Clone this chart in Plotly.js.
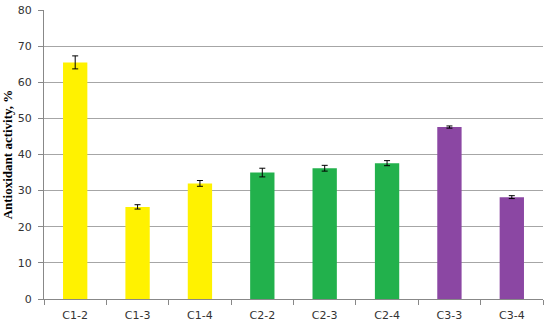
<!DOCTYPE html>
<html>
<head>
<meta charset="utf-8">
<script src="https://cdn.plot.ly/plotly-3.0.1.min.js"></script>
<style>html,body{margin:0;padding:0;background:#fff;}#chart{width:550px;height:329px;}</style>
</head>
<body>
<div id="chart"></div>
<script>
const categories = ["C1-2", "C1-3", "C1-4", "C2-2", "C2-3", "C2-4", "C3-3", "C3-4"];
const values = [65.5, 25.5, 32.0, 35.0, 36.2, 37.6, 47.6, 28.2];
const errors = [1.8, 0.6, 0.8, 1.2, 0.8, 0.7, 0.3, 0.4];
const barColors = ["#FFF200", "#FFF200", "#FFF200", "#22B14C", "#22B14C", "#22B14C", "#8B47A3", "#8B47A3"];
const yTicks = [0, 10, 20, 30, 40, 50, 60, 70, 80];

const trace = {
  type: "bar",
  x: categories,
  y: values,
  width: 0.39,
  marker: {color: barColors, line: {width: 0}},
  error_y: {type: "data", array: errors, visible: true, color: "#000", thickness: 1, width: 3}
};

const layout = {
  width: 550, height: 329,
  margin: {l: 44, r: 7, t: 10, b: 30},
  paper_bgcolor: "#fff", plot_bgcolor: "#fff",
  showlegend: false,
  font: {family: "DejaVu Sans, Verdana, sans-serif", size: 11, color: "#333"},
  xaxis: {
    type: "category",
    tickson: "boundaries",
    ticks: "outside", ticklen: 5, tickcolor: "#888", tickwidth: 1,
    showline: true, linecolor: "#888", linewidth: 1,
    showgrid: false, zeroline: false,
    ticklabelstandoff: 6,
    tickfont: {family: "DejaVu Sans, Verdana, sans-serif", size: 11, color: "#333"}
  },
  yaxis: {
    range: [0, 80],
    tickvals: yTicks,
    ticks: "outside", ticklen: 5, tickcolor: "#888", tickwidth: 1,
    showline: true, linecolor: "#888", linewidth: 1,
    showgrid: true, gridcolor: "#a6a6a6", gridwidth: 1,
    zeroline: false,
    ticklabelstandoff: 4,
    tickfont: {family: "DejaVu Sans, Verdana, sans-serif", size: 11, color: "#333"},
    title: {text: "Antioxidant activity, %", font: {family: "Liberation Serif, Times New Roman, serif", size: 13, color: "#000", weight: "bold"}, standoff: 4}
  }
};

Plotly.newPlot("chart", [trace], layout, {staticPlot: true, displayModeBar: false});
</script>
</body>
</html>
